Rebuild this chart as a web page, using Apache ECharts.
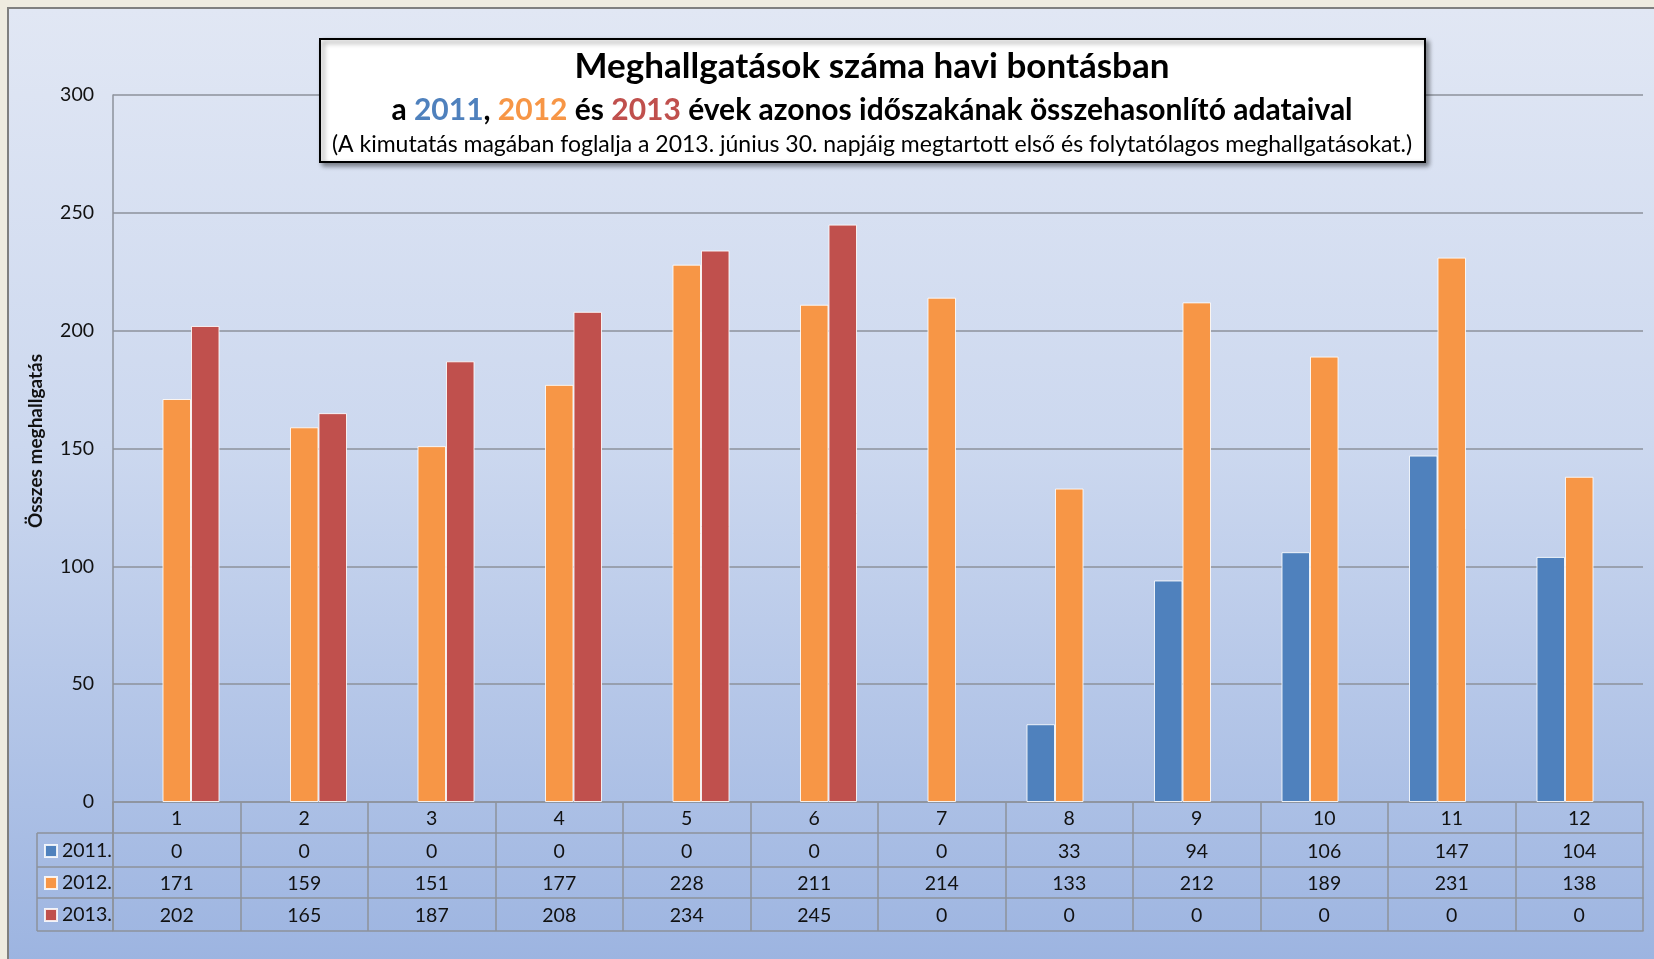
<!DOCTYPE html>
<html>
<head>
<meta charset="utf-8">
<script src="https://cdn.jsdelivr.net/npm/echarts@6/dist/echarts.min.js"></script>
<style>
  html, body { margin: 0; padding: 0; width: 1654px; height: 959px; overflow: hidden; background: #EEEBE0; }
  #panel {
    position: absolute; left: 7px; top: 7px; width: 1660px; height: 970px;
    border-left: 2px solid #7f7f7f; border-top: 2px solid #7f7f7f;
    background: linear-gradient(to bottom, #E1E7F4 0%, #CCD8EF 45%, #9BB3E0 100%);
  }
  #chart { position: absolute; left: 0; top: 0; width: 1654px; height: 959px; }
</style>
</head>
<body>
<div id="panel"></div>
<div id="chart"></div>
<script>
  // havi adatok
  const months = ['1', '2', '3', '4', '5', '6', '7', '8', '9', '10', '11', '12'];
  const seriesNames = ['2011.', '2012.', '2013.'];
  const y2011 = [0, 0, 0, 0, 0, 0, 0, 33, 94, 106, 147, 104];
  const y2012 = [171, 159, 151, 177, 228, 211, 214, 133, 212, 189, 231, 138];
  const y2013 = [202, 165, 187, 208, 234, 245, 0, 0, 0, 0, 0, 0];
  const colors = ['#4F81BD', '#F79646', '#C0504D'];

  const lineGray = '#8d929b';
  const labelFont = 'Lato, "Open Sans", sans-serif';
  const labelSize = 19.5;

  let chart = echarts.init(document.getElementById('chart'), null, { renderer: 'canvas' });

  function barData(arr) {
    return arr.map(v => v === 0 ? { value: v, itemStyle: { borderWidth: 0 } } : v);
  }

  // egy tablazat-sor = egy kategoria tengely, eltolassal
  function tableAxis(offset, tickLen, margin, labels) {
    return {
      type: 'category',
      position: 'bottom',
      offset: offset,
      data: months,
      boundaryGap: true,
      axisLine: { show: true, lineStyle: { color: lineGray, width: 1.5 } },
      axisTick: { show: tickLen > 0, length: tickLen, lineStyle: { color: lineGray, width: 1.5 } },
      axisLabel: {
        show: !!labels,
        interval: 0,
        margin: margin,
        verticalAlign: 'middle',
        color: '#111',
        fontSize: labelSize,
        fontFamily: labelFont,
        formatter: (v, i) => labels ? String(labels[i]) : ''
      },
      splitLine: { show: false }
    };
  }

  const series = [y2011, y2012, y2013].map((arr, k) => ({
    name: seriesNames[k],
    type: 'bar',
    data: barData(arr),
    barWidth: 28.5,
    barGap: '0%',
    itemStyle: { color: colors[k], borderColor: 'rgba(255,255,255,0.85)', borderWidth: 1 }
  }));

  const option = {
    backgroundColor: 'transparent',
    animation: false,
    grid: { left: 113, right: 11, top: 95, bottom: 157 },
    legend: {
      orient: 'vertical',
      left: 39,
      top: 836,
      itemWidth: 12,
      itemHeight: 12,
      itemGap: 12,
      icon: 'rect',
      selectedMode: false,
      textStyle: { fontSize: 19.5, lineHeight: 20, color: '#111', fontFamily: labelFont },
      data: seriesNames
    },
    xAxis: [
      tableAxis(0, 31, 17, months),
      tableAxis(31, 34, 18.5, y2011),
      tableAxis(65, 31, 17, y2012),
      tableAxis(96, 33, 18, y2013),
      tableAxis(129, 0, 0, null)
    ],
    yAxis: {
      type: 'value',
      min: 0,
      max: 300,
      interval: 50,
      name: 'Összes meghallgatás',
      nameLocation: 'middle',
      nameGap: 68,
      nameTextStyle: { fontSize: 19, fontWeight: 'bold', color: '#111', fontFamily: labelFont, padding: [0, 0, 0, 15] },
      axisLine: { show: true, lineStyle: { color: lineGray, width: 1.5 } },
      axisTick: { show: false },
      axisLabel: { margin: 19, fontSize: labelSize, color: '#111', fontFamily: labelFont },
      splitLine: { lineStyle: { color: lineGray, width: 1.5 } }
    },
    graphic: [
      // a tablazat bal oldali (jelmagyarazat) oszlopa
      { type: 'line', shape: { x1: 37, y1: 833, x2: 113, y2: 833 }, style: { stroke: lineGray, lineWidth: 1.5 } },
      { type: 'line', shape: { x1: 37, y1: 867, x2: 113, y2: 867 }, style: { stroke: lineGray, lineWidth: 1.5 } },
      { type: 'line', shape: { x1: 37, y1: 898, x2: 113, y2: 898 }, style: { stroke: lineGray, lineWidth: 1.5 } },
      { type: 'line', shape: { x1: 37, y1: 931, x2: 113, y2: 931 }, style: { stroke: lineGray, lineWidth: 1.5 } },
      { type: 'line', shape: { x1: 37, y1: 833, x2: 37, y2: 931 }, style: { stroke: lineGray, lineWidth: 1.5 } },
      { type: 'line', shape: { x1: 113, y1: 802, x2: 113, y2: 931 }, style: { stroke: lineGray, lineWidth: 1.5 } },
      // cim doboz
      {
        type: 'rect', z: 10,
        shape: { x: 320, y: 39, width: 1105, height: 123 },
        style: { fill: '#fff', stroke: '#000', lineWidth: 2, shadowBlur: 5, shadowOffsetX: 3, shadowOffsetY: 3, shadowColor: 'rgba(0,0,0,0.45)' }
      },
      {
        type: 'text', z: 11, x: 872, y: 67,
        style: { text: 'Meghallgatások száma havi bontásban', align: 'center', verticalAlign: 'middle',
                 font: 'bold 35px ' + labelFont, fill: '#000' }
      },
      {
        type: 'text', z: 11, x: 872, y: 110,
        style: {
          text: '{b|a }{c1|2011}{b|, }{c2|2012}{b| és }{c3|2013}{b| évek azonos időszakának összehasonlító adataival}',
          align: 'center', verticalAlign: 'middle',
          rich: {
            b: { fontSize: 30, fontWeight: 'bold', fontFamily: labelFont, fill: '#000' },
            c1: { fontSize: 30, fontWeight: 'bold', fontFamily: labelFont, fill: colors[0] },
            c2: { fontSize: 30, fontWeight: 'bold', fontFamily: labelFont, fill: colors[1] },
            c3: { fontSize: 30, fontWeight: 'bold', fontFamily: labelFont, fill: colors[2] }
          }
        }
      },
      {
        type: 'text', z: 11, x: 872, y: 145,
        style: { text: '(A kimutatás magában foglalja a 2013. június 30. napjáig megtartott első és folytatólagos meghallgatásokat.)',
                 align: 'center', verticalAlign: 'middle', font: '23px ' + labelFont, fill: '#000' }
      }
    ],
    series: series
  };

  chart.setOption(option);
</script>
</body>
</html>
